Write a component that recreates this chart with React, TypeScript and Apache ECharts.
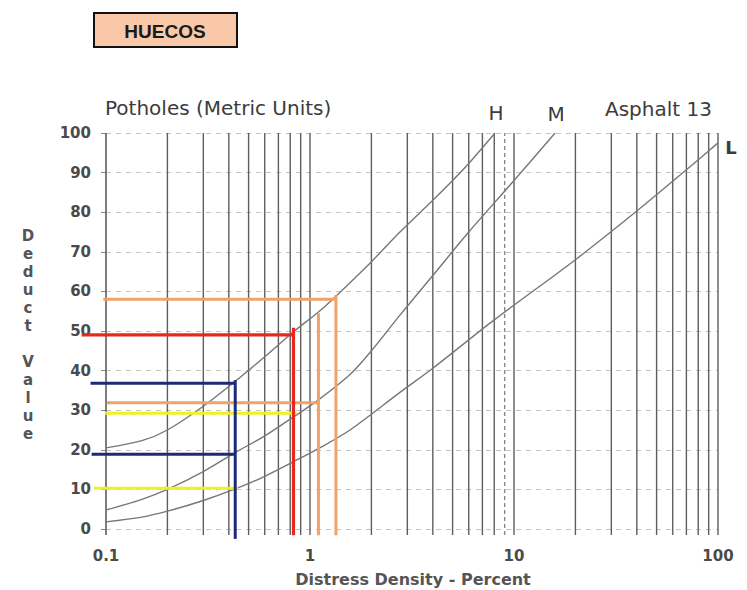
import React, { useEffect, useRef } from "react";
import * as echarts from "echarts";

// ---- data ----
const X_TICKS = [0.1, 1, 10, 100];
const Y_TICKS = [0, 10, 20, 30, 40, 50, 60, 70, 80, 90, 100];
const GRID_X = [0.1, 0.2, 0.3, 0.4, 0.5, 0.6, 0.7, 0.8, 0.9, 1, 2, 3, 4, 5, 6, 7, 8, 9, 10, 20, 30, 40, 50, 60, 70, 80, 90, 100];
const DASHED_X = [9];

// severity curves (Distress density %, Deduct value)
const hX = [0.1, 0.15, 0.2, 0.3, 0.43, 0.6, 0.83, 1.1, 1.34, 2, 2.76, 4, 5, 6, 8.07];
const hY = [20.5, 22.3, 25, 31, 37.3, 43.5, 49.8, 54.8, 58.8, 67.5, 75, 83, 88, 92.3, 100];
const mX = [0.1, 0.15, 0.2, 0.3, 0.43, 0.6, 0.83, 1.1, 1.57, 2, 2.76, 4, 6, 10, 15.9];
const mY = [4.8, 7.5, 10, 14.5, 19.3, 23.5, 28.3, 32.6, 39, 45, 54, 64, 75, 88, 100];
const lX = [0.1, 0.15, 0.2, 0.3, 0.44, 0.6, 0.83, 1.1, 1.57, 2.76, 4, 8, 20, 40, 70, 100];
const lY = [1.8, 3, 4.5, 7.2, 10.3, 13.3, 17, 20.3, 25, 34.5, 40.6, 52.8, 68, 80.3, 90.7, 97.5];

// reading lines: [x1, y1, x2, y2] segments, x in percent
const orangeSegs = [
  [0.097, 58, 1.34, 58],
  [1.34, 59.1, 1.34, -1.6],
  [0.101, 31.9, 1.1, 31.9],
  [1.1, 54.5, 1.1, -1.6],
];
const redSegs = [
  [0.076, 49, 0.83, 49],
  [0.83, 50.8, 0.83, -1.6],
];
const blueSegs = [
  [0.084, 36.8, 0.43, 36.8],
  [0.085, 18.9, 0.43, 18.9],
  [0.43, 37.6, 0.43, -2.5],
];
const yellowSegs = [
  [0.099, 29.2, 0.86, 29.2],
  [0.087, 10.3, 0.444, 10.3],
];

const ORANGE = "#f2a267";
const RED = "#e8281e";
const BLUE = "#1c2a7c";
const YELLOW = "#f0f028";
const FONT = "DejaVu Sans";

function zip(xs: number[], ys: number[]) {
  return xs.map((x, i) => [x, ys[i]]);
}

export default function App() {
  const ref = useRef<HTMLDivElement>(null);
  useEffect(() => {
    if (!ref.current) return;
    const chart = echarts.init(ref.current, undefined, { renderer: "svg" });

    const gridSeries = GRID_X.map((x) => ({
      type: "line",
      data: [[x, -1.5], [x, 100]],
      symbol: "none",
      clip: false,
      silent: true,
      z: 1,
      lineStyle: {
        color: DASHED_X.includes(x) ? "#888" : "#5e5e5e",
        width: x === 0.1 ? 1.6 : 1.4,
        type: DASHED_X.includes(x) ? [4, 3] : "solid",
      },
    }));

    const curve = (d: number[][]) => ({
      type: "line",
      data: d,
      symbol: "none",
      smooth: 0.3,
      z: 2,
      lineStyle: { color: "#777", width: 1.4 },
    });

    // reading lines drawn as custom segments positioned through the axes (api.coord)
    const reading = (segs: number[][], color: string, w = 3) => ({
      type: "custom",
      data: segs,
      clip: false,
      silent: true,
      z: 3,
      encode: { x: [0, 2], y: [1, 3] },
      renderItem: (_params: any, api: any) => {
        const p1 = api.coord([api.value(0), api.value(1)]);
        const p2 = api.coord([api.value(2), api.value(3)]);
        return {
          type: "line",
          shape: { x1: p1[0], y1: p1[1], x2: p2[0], y2: p2[1] },
          style: { stroke: color, lineWidth: w, lineCap: "butt" },
        };
      },
    });

    const topText = (text: string, x: number, y: number, align = "left") => ({
      type: "text",
      x,
      y,
      style: { text, fontFamily: FONT, fontSize: 20, fill: "#3c3c3c", align, verticalAlign: "middle" },
    });

    chart.setOption({
      animation: false,
      backgroundColor: "#ffffff",
      grid: { left: 106, right: 29, top: 133, bottom: 61 },
      xAxis: {
        type: "log",
        logBase: 10,
        min: X_TICKS[0],
        max: X_TICKS[X_TICKS.length - 1],
        splitNumber: 3,
        axisLine: { show: false },
        axisTick: { show: false },
        splitLine: { show: false },
        axisLabel: {
          margin: 19,
          fontFamily: FONT,
          fontSize: 15,
          fontWeight: "bold",
          color: "#4a4a4a",
          formatter: (v: number) => (X_TICKS.includes(+v.toPrecision(3)) ? String(+v.toPrecision(3)) : ""),
        },
      },
      yAxis: {
        type: "value",
        min: Y_TICKS[0],
        max: Y_TICKS[Y_TICKS.length - 1],
        interval: 10,
        axisLine: { show: false },
        axisTick: { show: true, length: 5, lineStyle: { color: "#888" } },
        splitLine: { show: true, lineStyle: { color: "#c4c4c4", type: [5, 5], width: 1 } },
        axisLabel: {
          margin: 15,
          fontFamily: FONT,
          fontSize: 15,
          fontWeight: "bold",
          color: "#4a4a4a",
        },
      },
      series: [
        ...gridSeries,
        curve(zip(hX, hY)),
        curve(zip(mX, mY)),
        curve(zip(lX, lY)),
        reading(yellowSegs, YELLOW),
        reading(orangeSegs, ORANGE),
        reading(redSegs, RED, 3.2),
        reading(blueSegs, BLUE),
      ],
      graphic: [
        {
          type: "rect",
          shape: { x: 94, y: 13, width: 143, height: 34 },
          style: { fill: "#f9c8a8", stroke: "#111", lineWidth: 2 },
        },
        {
          type: "text",
          x: 165,
          y: 31,
          style: {
            text: "HUECOS",
            fontFamily: "Liberation Sans",
            fontSize: 19,
            fontWeight: "bold",
            fill: "#1a1a1a",
            align: "center",
            verticalAlign: "middle",
          },
        },
        topText("Potholes (Metric Units)", 105, 108),
        topText("H", 496, 113, "center"),
        topText("M", 556, 114, "center"),
        topText("Asphalt 13", 605, 109),
        {
          type: "text",
          x: 731,
          y: 147,
          style: { text: "L", fontFamily: FONT, fontSize: 18, fontWeight: "bold", fill: "#3c3c3c", align: "center", verticalAlign: "middle" },
        },
        {
          type: "text",
          x: 28,
          y: 227,
          style: {
            text: "D\ne\nd\nu\nc\nt\n\nV\na\nl\nu\ne",
            fontFamily: FONT,
            fontSize: 15,
            fontWeight: "bold",
            lineHeight: 18,
            fill: "#555",
            align: "center",
            verticalAlign: "top",
          },
        },
        {
          type: "text",
          x: 413,
          y: 579,
          style: {
            text: "Distress Density - Percent",
            fontFamily: FONT,
            fontSize: 16,
            fontWeight: "bold",
            fill: "#555",
            align: "center",
            verticalAlign: "middle",
          },
        },
      ],
    });
    return () => chart.dispose();
  }, []);
  return <div ref={ref} style={{ position: "fixed", left: 0, top: 0, width: 747, height: 590 }} />;
}
